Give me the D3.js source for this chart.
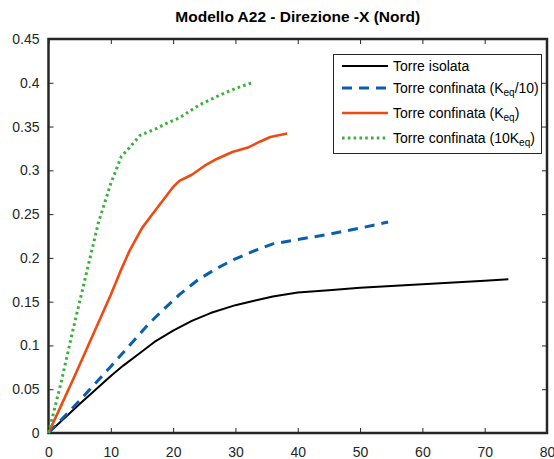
<!DOCTYPE html>
<html>
<head>
<meta charset="utf-8">
<script src="https://cdn.jsdelivr.net/npm/d3@7"></script>
<style>
  body { margin: 0; background: #fff; }
  svg text { font-family: "Liberation Sans", Arial, sans-serif; }
</style>
</head>
<body>
<svg id="chart" width="554" height="459"></svg>
<script>
// Data (x, y pairs per curve).
var isolataX = [0, 5, 10, 12, 15, 17, 20, 23, 26, 30, 33, 36, 40, 45, 50, 55, 60, 65, 70, 73.8];
var isolataY = [0, 0.033, 0.065, 0.077, 0.093, 0.104, 0.117, 0.128, 0.137, 0.146, 0.151, 0.156, 0.1605, 0.163, 0.166, 0.168, 0.170, 0.172, 0.174, 0.1755];

var conf10X = [0, 5, 10, 13, 16, 18, 21, 24, 27, 30, 33, 36, 40, 45, 50, 54.5];
var conf10Y = [0, 0.037, 0.076, 0.100, 0.124, 0.138, 0.158, 0.175, 0.188, 0.199, 0.208, 0.216, 0.221, 0.227, 0.234, 0.241];

var confX = [0, 2, 4, 6, 8, 10, 11.5, 13, 15, 17, 18.5, 20, 21, 23, 25, 27, 29.5, 32, 34, 35.6, 38.3];
var confY = [0, 0.031, 0.062, 0.094, 0.126, 0.158, 0.184, 0.208, 0.234, 0.253, 0.267, 0.281, 0.288, 0.295, 0.305, 0.313, 0.321, 0.326, 0.333, 0.338, 0.342];

var conf10kX = [0, 2, 4, 6, 8, 10, 11.7, 13, 14.7, 17.4, 19, 21, 24.3, 27.5, 30.2, 32.6];
var conf10kY = [0, 0.057, 0.12, 0.18, 0.24, 0.285, 0.316, 0.326, 0.34, 0.348, 0.354, 0.36, 0.375, 0.386, 0.394, 0.400];

var xTicks = [0, 10, 20, 30, 40, 50, 60, 70, 80];
var yTicks = [0, 0.05, 0.1, 0.15, 0.2, 0.25, 0.3, 0.35, 0.4, 0.45];

// Plot box
var margin = { top: 39, right: 7, bottom: 26, left: 48.5 },
    width = 554 - margin.left - margin.right,
    height = 459 - margin.top - margin.bottom;

var svg = d3.select("#chart");
var g = svg.append("g")
    .attr("transform", "translate(" + margin.left + "," + margin.top + ")");

var x = d3.scaleLinear().domain([0, 80]).range([0, width]);
var y = d3.scaleLinear().domain([0, 0.45]).range([height, 0]);

var axisColor = "#262626";

// Title
svg.append("text")
    .attr("x", margin.left + width / 2)
    .attr("y", 21.5)
    .attr("text-anchor", "middle")
    .style("font-size", "15.5px")
    .style("font-weight", "bold")
    .style("fill", "#000")
    .text("Modello A22 - Direzione -X (Nord)");

// Axes: labels outside on bottom/left, inward ticks on all four sides
function styleAxis(sel) {
    sel.select(".domain").remove();
    sel.selectAll("line").attr("stroke", axisColor);
    sel.selectAll("text").style("fill", axisColor).style("font-size", "14px");
}

g.append("g")
    .attr("transform", "translate(0," + height + ")")
    .call(d3.axisBottom(x).tickValues(xTicks).tickSize(-5).tickPadding(14).tickFormat(d3.format("d")))
    .call(styleAxis);

g.append("g")
    .call(d3.axisTop(x).tickValues(xTicks).tickSize(-5).tickFormat(""))
    .call(styleAxis);

g.append("g")
    .call(d3.axisLeft(y).tickValues(yTicks).tickSize(-5).tickPadding(9).tickFormat(function (d) {
        return d === 0 ? "0" : String(+d.toFixed(2));
    }))
    .call(styleAxis);

g.append("g")
    .attr("transform", "translate(" + width + ",0)")
    .call(d3.axisRight(y).tickValues(yTicks).tickSize(-5).tickFormat(""))
    .call(styleAxis);

// Box
g.append("rect")
    .attr("width", width)
    .attr("height", height)
    .attr("fill", "none")
    .attr("stroke", axisColor)
    .attr("stroke-width", 2.5);

// Series
var series = [
    { xs: isolataX, ys: isolataY, color: "#000000", width: 2, dash: null },
    { xs: conf10X, ys: conf10Y, color: "#0a5fab", width: 3, dash: "10,7" },
    { xs: confX, ys: confY, color: "#ee4b12", width: 2.6, dash: null },
    { xs: conf10kX, ys: conf10kY, color: "#3cb03c", width: 3, dash: "2.6,3.2" }
];

var line = d3.line()
    .x(function (d) { return x(d[0]); })
    .y(function (d) { return y(d[1]); });

series.forEach(function (s) {
    var pts = s.xs.map(function (v, i) { return [v, s.ys[i]]; });
    g.append("path")
        .datum(pts)
        .attr("d", line)
        .attr("fill", "none")
        .attr("stroke", s.color)
        .attr("stroke-width", s.width)
        .attr("stroke-dasharray", s.dash)
        .attr("stroke-linejoin", "round");
});

// Legend
var legend = svg.append("g").attr("transform", "translate(333,54)");
legend.append("rect")
    .attr("x", 0.5)
    .attr("y", 0.5)
    .attr("width", 208)
    .attr("height", 99)
    .attr("fill", "#fff")
    .attr("stroke", axisColor)
    .attr("stroke-width", 1);

var legendItems = [
    { main: "Torre isolata", sub: null, tail: null },
    { main: "Torre confinata (K", sub: "eq", tail: "/10)" },
    { main: "Torre confinata (K", sub: "eq", tail: ")" },
    { main: "Torre confinata (10K", sub: "eq", tail: ")" }
];
var legendY = [12, 34, 59, 84];

legendItems.forEach(function (item, i) {
    var s = series[i];
    var ly = legendY[i];
    legend.append("line")
        .attr("x1", 9)
        .attr("x2", 55)
        .attr("y1", ly)
        .attr("y2", ly)
        .attr("stroke", s.color)
        .attr("stroke-width", s.width)
        .attr("stroke-dasharray", s.dash);
    var t = legend.append("text")
        .attr("x", 60)
        .attr("y", ly + 5)
        .style("font-size", "14px")
        .style("fill", "#000");
    t.append("tspan").text(item.main);
    if (item.sub) {
        t.append("tspan").attr("dy", 3).style("font-size", "10px").text(item.sub);
        t.append("tspan").attr("dy", -3).text(item.tail);
    }
});
</script>
</body>
</html>
